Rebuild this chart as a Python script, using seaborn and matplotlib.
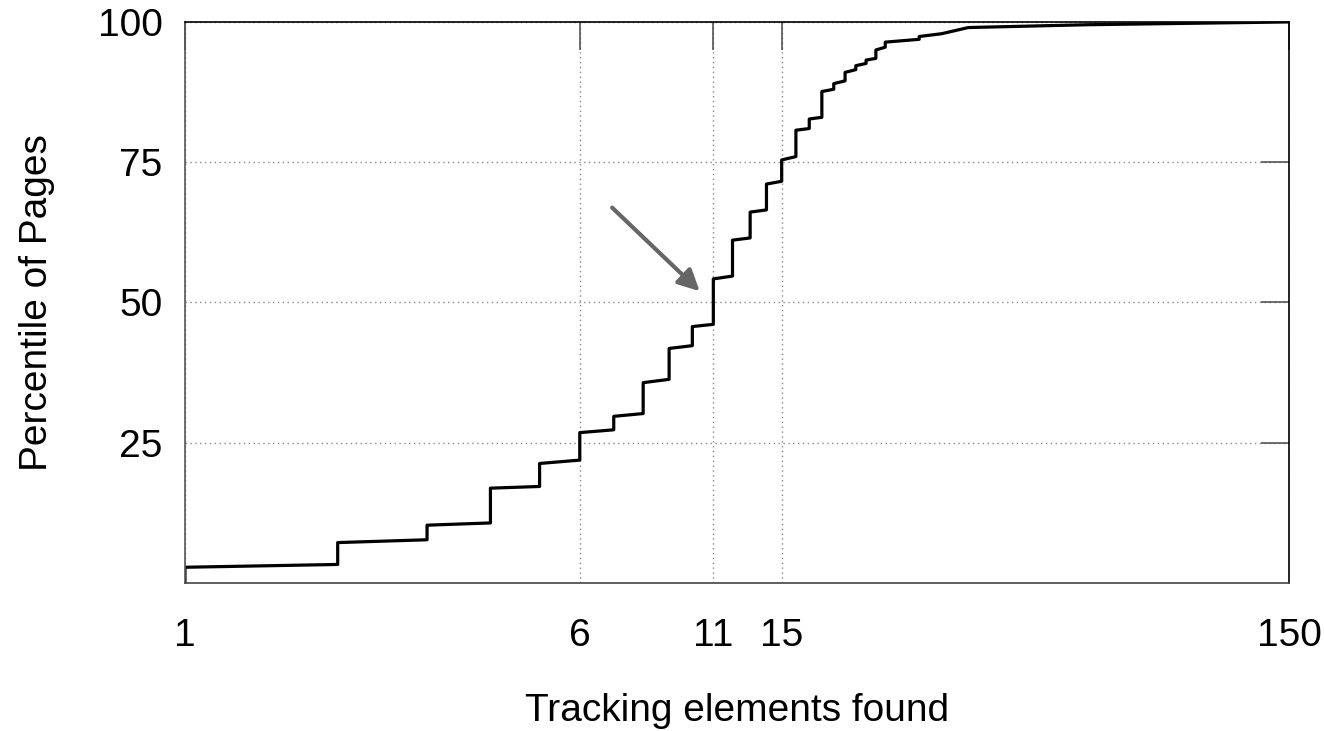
import numpy as np
import pandas as pd
import matplotlib
matplotlib.use('Agg')
import matplotlib.pyplot as plt
import seaborn as sns

# CDF of tracking elements per page
# each count has the percentile just before and just after its jump
elements = [1, 1, 2, 2, 3, 3, 4, 4, 5, 5, 6, 6, 7, 7, 8, 8, 9, 9, 10, 10,
            11, 11, 12, 12, 13, 13, 14, 14, 15, 15, 16, 16, 17, 17, 18, 18,
            19, 19, 20, 20, 21, 21, 22, 22, 23, 23, 24, 24, 28, 28, 31, 35, 60, 150]
percentile = [0.0, 2.8, 3.3, 7.2, 7.7, 10.3, 10.7, 16.9, 17.2, 21.3, 21.9, 26.8,
              27.3, 29.7, 30.2, 35.7, 36.3, 41.8, 42.3, 45.7, 46.1, 54.2,
              54.7, 61.1, 61.5, 66.1, 66.5, 71.1, 71.6, 75.4, 76.0, 80.7,
              81.0, 82.7, 83.0, 87.6, 88.0, 89.0, 89.5, 91.0, 91.5, 92.2,
              92.6, 93.2, 93.5, 95.0, 95.5, 96.4, 96.9, 97.4, 97.9, 99.0, 99.5, 100.0]

x_ticks = [1, 6, 11, 15, 150]
y_ticks = [25, 50, 75, 100]

df = pd.DataFrame({'elements': elements, 'percentile': percentile})

sns.set_theme(style="white")
plt.rcParams['font.family'] = ['Liberation Sans', 'DejaVu Sans']
plt.rcParams['text.color'] = 'black'
plt.rcParams['axes.labelcolor'] = 'black'
plt.rcParams['xtick.direction'] = 'in'
plt.rcParams['ytick.direction'] = 'in'

fig, ax = plt.subplots(figsize=(13.24, 7.31), dpi=100)
fig.subplots_adjust(left=0.1397, right=0.9736, bottom=0.2025, top=0.970)

sns.lineplot(data=df, x='elements', y='percentile', estimator=None, sort=False,
             color='black', lw=2.3, ax=ax)

ax.set_xscale('log')
ax.set_xlim(1, 150)
ax.set_ylim(0, 100)
ax.set_xticks(x_ticks)
ax.set_xticklabels([str(t) for t in x_ticks])
ax.minorticks_off()
ax.set_yticks(y_ticks)
ax.set_yticklabels([str(t) for t in y_ticks])

ax.tick_params(axis='both', which='major', length=20, width=1.2, color='#555555',
               labelsize=28, top=True, right=True, labelcolor='black')
ax.tick_params(axis='x', pad=25)
ax.tick_params(axis='y', pad=16)

for side in ['left', 'bottom', 'top', 'right']:
    ax.spines[side].set_visible(True)
    ax.spines[side].set_color('black')
    ax.spines[side].set_linewidth(1.2)
ax.spines['left'].set_color('#555555')
ax.spines['bottom'].set_color('#444444')

ax.grid(True, which='major', color='#888888', lw=1, linestyle=(0, (1, 2.5)))

ax.annotate('', xy=(10.34, 52.0), xytext=(6.95, 66.9),
            arrowprops=dict(arrowstyle='-|>', color='#666666', lw=3,
                            mutation_scale=32, shrinkA=0, shrinkB=0))

ax.set_xlabel('Tracking elements found', fontsize=28, labelpad=28)
ax.set_ylabel('Percentile of Pages', fontsize=28, labelpad=31)

fig.savefig('out.png', dpi=100)
